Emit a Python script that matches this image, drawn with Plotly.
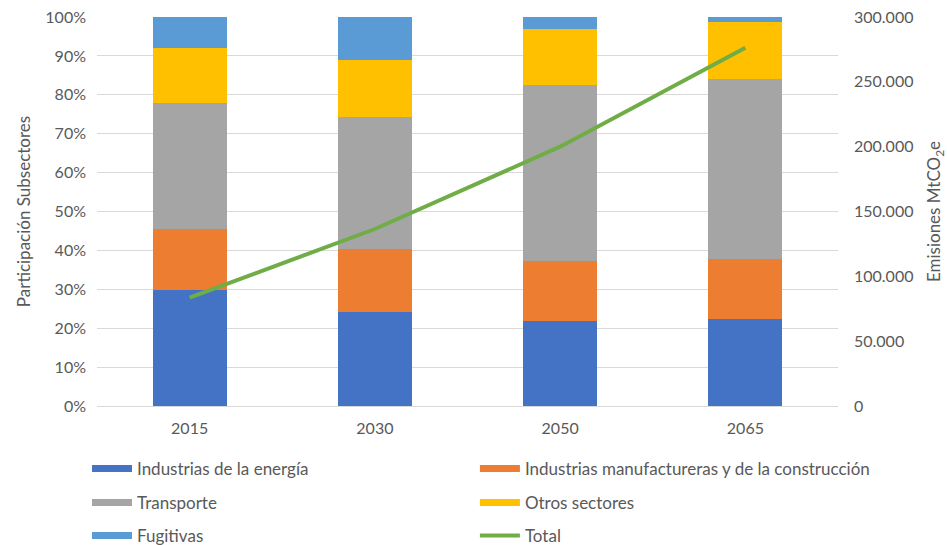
import plotly.graph_objects as go

years = ["2015", "2030", "2050", "2065"]
energia = [29.8, 24.2, 21.9, 22.3]
manufactura = [15.7, 16.2, 15.4, 15.6]
transporte = [32.5, 33.8, 45.2, 46.1]
otros = [14.1, 14.7, 14.4, 14.7]
fugitivas = [7.9, 11.1, 3.1, 1.3]
total = [83500, 136500, 200000, 276300]

names = ["Industrias de la energía", "Industrias manufactureras y de la construcción",
         "Transporte", "Otros sectores", "Fugitivas"]
series = [energia, manufactura, transporte, otros, fugitivas]
colors = ["#4472C4", "#ED7D31", "#A5A5A5", "#FFC000", "#5B9BD5"]

FONT = "Lato, Liberation Sans, sans-serif"
GREY_TXT = "#595959"
FS = 16

fig = go.Figure()
for n, s, c in zip(names, series, colors):
    fig.add_trace(go.Bar(x=years, y=s, name=n, marker=dict(color=c, line=dict(width=0)),
                         showlegend=False, yaxis="y"))

fig.add_trace(go.Scatter(x=years, y=total, name="Total", mode="lines",
                         line=dict(color="#70AD47", width=4), yaxis="y2", showlegend=False))

# legend entries: one small legend per entry, laid out in two columns
leg_names = names + ["Total"]
leg_colors = colors + ["#70AD47"]
leg_widths = [7, 7, 7, 7, 7, 4]
col_x = [-0.0135, 0.510]
row_y = [-0.162, -0.249, -0.334]
legend_layouts = {}
for i, (n, c, w) in enumerate(zip(leg_names, leg_colors, leg_widths)):
    lid = "legend" if i == 0 else f"legend{i+1}"
    fig.add_trace(go.Scatter(x=[None], y=[None], mode="lines", name=n,
                             line=dict(color=c, width=w), legend=lid,
                             yaxis="y2" if n == "Total" else "y"))
    legend_layouts[lid] = dict(x=col_x[i % 2], y=row_y[i // 2], xanchor="left", yanchor="middle",
                               orientation="h", itemwidth=40,
                               font=dict(family=FONT, size=17, color=GREY_TXT),
                               bgcolor="rgba(0,0,0,0)")

fig.update_layout(
    width=947, height=545,
    margin=dict(l=97, r=109, t=17, b=139, autoexpand=False),
    plot_bgcolor="white", paper_bgcolor="white",
    barmode="stack", bargap=0.6,
    separators=",.",
    font=dict(family=FONT, size=FS, color=GREY_TXT),
    xaxis=dict(showgrid=False, showline=True, linecolor="#d9d9d9", linewidth=1,
               ticks="", tickfont=dict(size=FS), ticklabelstandoff=8, fixedrange=True),
    yaxis=dict(range=[0, 100], dtick=10, ticksuffix="%", showgrid=True,
               gridcolor="#d9d9d9", gridwidth=1, zeroline=False, ticklabelstandoff=10,
               title=dict(text="Participación Subsectores", font=dict(size=FS + 1), standoff=10),
               tickfont=dict(size=FS)),
    yaxis2=dict(range=[0, 300000], dtick=50000, overlaying="y", side="right",
                showgrid=False, zeroline=False, tickformat=",d", ticklabelstandoff=15,
                title=dict(text="Emisiones MtCO<sub>2</sub>e", font=dict(size=FS + 1), standoff=16),
                tickfont=dict(size=FS)),
    **legend_layouts,
)

fig.write_html("out.html")
